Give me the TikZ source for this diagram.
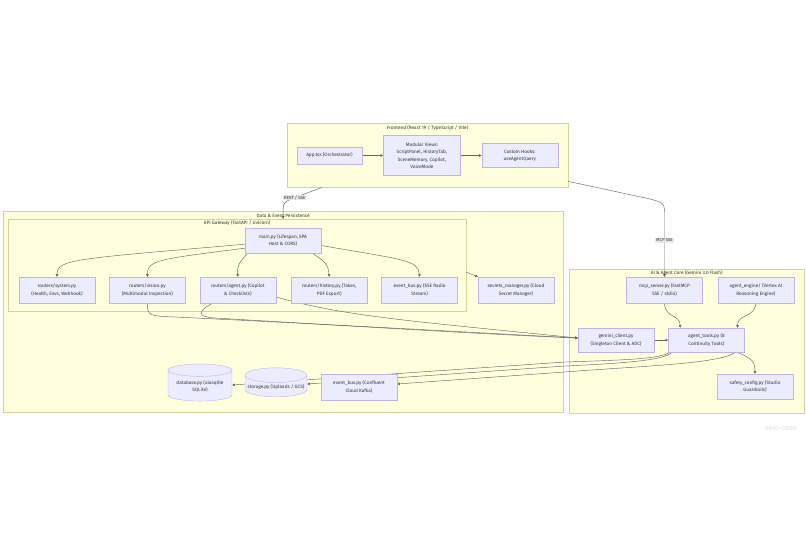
\documentclass[tikz,border=0pt]{standalone}
\usepackage{fontspec}
\setmainfont{Fira Sans}
\usetikzlibrary{arrows.meta,positioning,calc,shapes.geometric}
\definecolor{mmfill}{HTML}{ECECFF}
\definecolor{mmedge}{HTML}{9370DB}
\definecolor{grpfill}{HTML}{FFFFDE}
\definecolor{grpedge}{HTML}{AAAA33}
\definecolor{mmink}{HTML}{333333}
\definecolor{mmlbl}{HTML}{E8E8E8}
\pgfdeclarelayer{grp}
\pgfdeclarelayer{wires}
\pgfsetlayers{grp,wires,main}
\tikzset{
  bx/.style={draw=mmedge!55, fill=mmfill, line width=0.4pt, align=center, text=mmink, font=\fontsize{4.7}{7.4}\selectfont, inner sep=1pt, minimum width=76pt, minimum height=26pt},
  store/.style={bx, cylinder, shape border rotate=90, aspect=0.25},
  grp/.style={draw=grpedge!50, fill=grpfill, line width=0.4pt, anchor=north west, inner sep=0pt},
  grplbl/.style={font=\fontsize{4.7}{6}\selectfont, text=mmink, inner sep=0pt},
  arr/.style={-{Triangle[length=2.6pt,width=2.6pt]}, line width=0.45pt, draw=mmink!75},
  elbl/.style={fill=mmlbl, font=\fontsize{4.4}{5}\selectfont, text=mmink, inner sep=0.8pt},
}
\begin{document}
\begin{tikzpicture}[x=1pt, y=-1pt, node distance=14pt]
  \useasboundingbox (0,0) rectangle (806,537);
  \begin{pgfonlayer}{grp}
    \fill[white] (0,0) rectangle (806,537);
    \node[grp, minimum width=281pt, minimum height=64pt] (fe) at (287,123) {};
    \node[grp, minimum width=560pt, minimum height=201pt] (dep) at (3,211) {};
    \node[grp, minimum width=458pt, minimum height=92pt] (api) at (8,219) {};
    \node[grp, minimum width=235pt, minimum height=144pt] (core) at (569,269) {};
  \end{pgfonlayer}
  \node[grplbl] (felbl) at ($(fe.north)+(0,5)$) {Frontend (React 19 / TypeScript / Vite)};
  \node[grplbl] (deplbl) at ($(dep.north)+(0,4.5)$) {Data \& Event Persistence};
  \node[grplbl] (apilbl) at ($(api.north)+(0,4.5)$) {API Gateway (FastAPI / Uvicorn)};
  \node[grplbl] (corelbl) at ($(core.north)+(0,4.5)$) {AI \& Agent Core (Gemini 3.0 Flash)};

  % frontend
  \node[bx, minimum width=65pt, minimum height=17pt] (app) at (329.5,155.5) {App.tsx (Orchestrator)};
  \node[bx, minimum width=77pt, minimum height=40pt, right=21pt of app] (views) {Modular Views:\\ScriptPanel, HistoryTab,\\SceneMemory, Copilot,\\VoiceMode};
  \node[bx, minimum height=24pt, right=21pt of views] (hooks) {Custom Hooks:\\useAgentQuery};

  % gateway
  \node[bx, minimum height=25pt] (main) at (283,240.5) {main.py (Lifespan, SPA\\Host \& CORS)};
  \node[bx] (rsys) at (57,290) {routers/system.py\\(Health, Envs, Webhook)};
  \node[bx, right=of rsys] (rvis) {routers/vision.py\\(Multimodal Inspection)};
  \node[bx, right=of rvis] (ragent) {routers/agent.py (Copilot\\\& Checklists)};
  \node[bx, right=15pt of ragent] (rhist) {routers/history.py (Takes,\\PDF Export)};
  \node[bx, right=of rhist] (sse) {event\_bus.py (SSE Radio\\Stream)};
  \node[bx, right=20pt of sse] (secrets) {secrets\_manager.py (Cloud\\Secret Manager)};

  % persistence
  \node[bx] (kafka) at (359,387) {event\_bus.py (Confluent\\Cloud Kafka)};
  \node[store, minimum width=62pt, minimum height=29pt] (storage) at (276,387) {storage.py (Uploads / GCS)};
  \node[store, minimum width=64pt, minimum height=37pt] (dbase) at (200,386.5) {database.py (aiosqlite\\SQLite)};

  % agent core
  \node[bx] (mcp) at (664.5,290) {mcp\_server.py (FastMCP\\SSE / stdio)};
  \node[bx, right=15pt of mcp] (engine) {agent\_engine/ (Vertex AI\\Reasoning Engine)};
  \node[bx, minimum height=24pt] (gemini) at (616,340) {gemini\_client.py\\(Singleton Client \& ADC)};
  \node[bx, minimum height=24pt, right=of gemini] (tools) {agent\_tools.py (8\\Continuity Tools)};
  \node[bx, minimum height=25pt] (safety) at (755,386.5) {safety\_config.py (Studio\\Guardrails)};

  \node[font=\fontsize{7}{8}\selectfont, text=black!13] (mark) at (781,428) {vero-code};

  \begin{pgfonlayer}{wires}
    \draw[arr] ($(fe.south west)+(35,0)$) -- node[elbl, pos=0.85] {REST / SSE} (290,199.5) .. controls (283,203) .. (api.north -| dep.north);
    \draw[arr] ($(fe.south east)+(0,-6)$) -- (650,199) .. controls (664.5,203) .. (664.5,216) -- node[elbl, pos=0.4] {MCP SSE} (mcp.north);
    \foreach \a/\b in {app/views,views/hooks,gemini/tools} \draw[arr] (\a) -- (\b);
    % main.py fan-out
    \draw[arr] ($(main.south west)+(0,-9)$) .. controls (75,259) and (57,259) .. (rsys.north);
    \draw[arr] ($(main.south west)+(0,-5)$) .. controls (160,259) and (147,260) .. (rvis.north);
    \draw[arr] ($(main.south west)+(3,0)$) .. controls (240,262) and (237,264) .. (ragent.north);
    \draw[arr] ($(main.south east)+(-9,0)$) .. controls (325,262) and (328,263) .. (rhist.north);
    \draw[arr] ($(main.east)+(0,5)$) .. controls (405,260) and (418,260) .. (sse.north);
    \draw[arr] ($(api.east)+(0,7)$) -- (secrets.north west);
    % routers to gemini
    \draw[arr] (rvis.south) .. controls (147,316) and (150,316) .. (175,317) .. controls (400,328) and (500,334) .. ($(gemini.west)+(0,-2)$);
    \draw[arr] ($(ragent.south west)+(13,0)$) .. controls (196,312) and (198,317) .. (215,318) .. controls (400,329) and (500,335) .. ($(gemini.west)+(0,-2)$);
    \draw[arr] ($(ragent.east)+(0,7)$) .. controls (345,316) and (400,320) .. ($(gemini.west)+(0,-2)$);
    % agent core
    \draw[arr] (mcp.south) .. controls (664.5,318) and (680,314) .. ($(tools.north west)+(12,0)$);
    \draw[arr] (engine.south) .. controls (755,318) and (737,314) .. ($(tools.north east)+(-7,0)$);
    \draw[arr] ($(tools.south east)+(-8,0)$) .. controls (752,358) and (755,362) .. (safety.north);
    % tools to persistence
    \draw[arr] ($(tools.south east)+(-9,0)$) .. controls (720,364) and (640,366) .. (565,372) -- ($(kafka.east)+(0,-3)$);
    \draw[arr] ($(tools.south west)+(4,0)$) .. controls (664,360) and (630,363) .. (565,366) -- ($(storage.east)+(0,-3)$);
    \draw[arr] ($(tools.south west)+(2,0)$) .. controls (660,359) and (625,360) .. (565,362) -- ($(dbase.east)+(0,-1.5)$);
  \end{pgfonlayer}
\end{tikzpicture}
\end{document}
